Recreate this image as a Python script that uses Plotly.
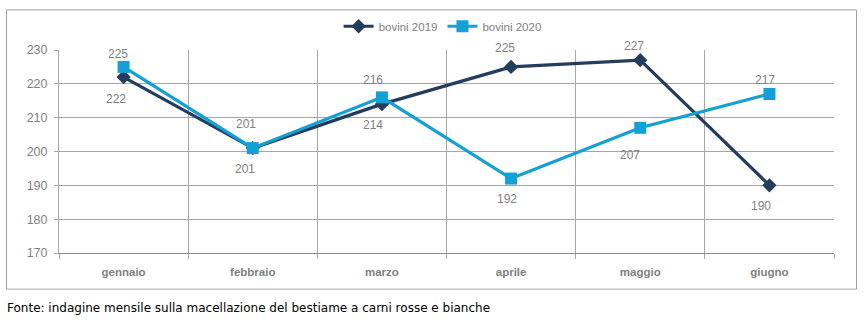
import plotly.graph_objects as go

months = ["gennaio", "febbraio", "marzo", "aprile", "maggio", "giugno"]
bovini_2019 = [222, 201, 214, 225, 227, 190]
bovini_2020 = [225, 201, 216, 192, 207, 217]
y_ticks = [170, 180, 190, 200, 210, 220, 230]
source = "Fonte: indagine mensile sulla macellazione del bestiame a carni rosse e bianche"

# label offsets in pixels (dx, dy; dy positive = upwards)
off_2019 = [(-8, -22), (-8, -21), (-9, -21), (-6, 19), (-6, 14), (-8, -21)]
off_2020 = [(-6, 13), (-7, 24), (-9, 17), (-4, -20), (-10, -27), (-4, 14)]

W, H = 866, 322
L, R, T, B = 59, 834, 48, 253
pw, ph = R - L, B - T

c19 = "#243C5E"
c20 = "#12A0D7"
txt = "#7F7F7F"
grid = "#A6A6A6"

fig = go.Figure()
fig.add_trace(go.Scatter(
    x=months, y=bovini_2019, name="bovini 2019", mode="lines+markers",
    line=dict(color=c19, width=3.2),
    marker=dict(symbol="diamond", size=11, color=c19),
))
fig.add_trace(go.Scatter(
    x=months, y=bovini_2020, name="bovini 2020", mode="lines+markers",
    line=dict(color=c20, width=3.2),
    marker=dict(symbol="square", size=12, color=c20),
))

for vals, offs in ((bovini_2019, off_2019), (bovini_2020, off_2020)):
    for m, v, (dx, dy) in zip(months, vals, offs):
        fig.add_annotation(x=m, y=v, text=str(v), showarrow=False,
                           xshift=dx, yshift=dy,
                           font=dict(family="Liberation Sans, Arial", size=12, color=txt))

def px_x(px):
    return (px - L) / pw

def px_y(py):
    return (B - py) / ph

fig.add_shape(type="rect", xref="paper", yref="paper",
              x0=px_x(6.5), x1=px_x(856.5), y0=px_y(289.5), y1=px_y(7.5),
              line=dict(color="#A0A0A0", width=1), layer="below")
fig.add_annotation(text=source, xref="paper", yref="paper",
                   x=px_x(5), y=px_y(309), xanchor="left", yanchor="middle",
                   showarrow=False,
                   font=dict(family="DejaVu Sans", size=12, color="#000000"))

fig.update_layout(
    width=W, height=H,
    margin=dict(l=L, r=W - R, t=T, b=H - B),
    paper_bgcolor="white", plot_bgcolor="white",
    showlegend=True,
    legend=dict(orientation="h", x=0.495, xanchor="center", y=px_y(24), yanchor="middle",
                font=dict(family="Liberation Sans, Arial", size=11.5, color=txt),
                itemwidth=30, tracegroupgap=0),
    font=dict(family="Liberation Sans, Arial", color=txt),
)
fig.update_xaxes(
    type="category", tickson="boundaries", showgrid=True, gridcolor=grid, gridwidth=1,
    ticks="outside", ticklen=5, tickcolor=grid,
    showline=True, linecolor="#8C8C8C", linewidth=1, mirror=False,
    tickfont=dict(family="Liberation Sans, Arial", size=11.5, color=txt, weight="bold"),
    ticklabelstandoff=8,
    range=[-0.5, 5.5], fixedrange=True,
)
fig.update_yaxes(
    range=[170, 230], tickvals=y_ticks, showgrid=True, gridcolor=grid, gridwidth=1,
    ticks="outside", ticklen=4, tickcolor=grid,
    showline=True, linecolor=grid, linewidth=1, zeroline=False,
    tickfont=dict(family="Liberation Sans, Arial", size=12.5, color=txt),
    ticklabelstandoff=4,
)
fig.write_html("out.html")
